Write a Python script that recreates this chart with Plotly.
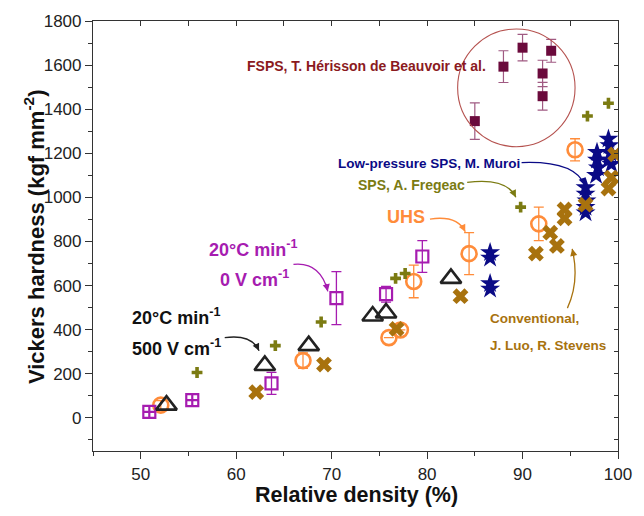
import plotly.graph_objects as go

# ---------------- data ----------------
fsps_x = [85.0, 88.0, 90.0, 92.1, 92.1, 93.0]
fsps_y = [1346, 1593, 1679, 1562, 1459, 1665]
fsps_err = [83, 72, 60, 60, 63, 52]

fregeac_x = [55.9, 64.1, 68.9, 76.7, 77.7, 89.8, 96.8, 99.0]
fregeac_y = [206, 328, 435, 633, 655, 956, 1369, 1427]

muroi_x = [86.6, 86.6, 86.6, 86.6,
           96.6, 96.6, 96.7, 96.6, 96.6,
           97.8, 97.8, 97.9, 97.7,
           99.0, 99.1, 99.2, 99.0, 99.3]
muroi_y = [750, 725, 610, 585,
           1045, 1015, 985, 955, 930,
           1205, 1170, 1135, 1100,
           1265, 1235, 1200, 1170, 1150]

conv_x = [62.1, 69.2, 76.8, 83.5, 91.4, 92.9, 93.6, 94.4, 94.4, 96.6, 99.0, 99.3, 99.7]
conv_y = [117, 242, 404, 552, 745, 840, 780, 905, 945, 967, 1040, 1090, 1195]

ff_x = [50.9, 55.4, 63.7, 70.5, 75.7, 79.5]          # 20°C/min, 0 V/cm
ff_y = [27, 81, 157, 543, 561, 732]
ff_err = [None, None, 50, 120, 36, 72]
ff_symbols = ["square-cross-open", "square-cross-open", "square-open",
              "square-open", "square-open", "square-open"]

uhs_x = [52.1, 67.0, 76.0, 77.2, 78.6, 84.4, 91.7, 95.5]
uhs_y = [58, 260, 364, 399, 619, 745, 880, 1216]
uhs_err = [20, 35, None, None, 74, 95, 76, 50]

fs_x = [52.7, 63.0, 67.6, 74.3, 75.7, 82.5]          # 20°C/min, 500 V/cm
fs_y = [58, 238, 328, 462, 476, 633]

# ---------------- colours ----------------
C_FSPS = "#6B0A3C"
C_FSPS_ERR = "#A05A82"
C_FSPS_TXT = "#8B1A1E"
C_CIRCLE = "#B5524F"
C_FREG = "#7B7B12"
C_MUROI = "#0A0A86"
C_CONV = "#A8720E"
C_PURP = "#A61CB0"
C_UHS = "#FF8C3A"
C_BLACK = "#222222"

FONT = "Arial, Liberation Sans, sans-serif"

fig = go.Figure()

fig.add_trace(go.Scatter(
    x=uhs_x, y=uhs_y, mode="markers",
    marker=dict(symbol="circle-open", size=15, color=C_UHS, line=dict(width=2.6, color=C_UHS)),
    error_y=dict(type="data", array=uhs_err, color=C_UHS, thickness=1.3, width=5),
    showlegend=False, hoverinfo="skip"))

fig.add_trace(go.Scatter(
    x=ff_x, y=ff_y, mode="markers",
    marker=dict(symbol=ff_symbols, size=12, color=C_PURP, line=dict(width=2.2, color=C_PURP)),
    error_y=dict(type="data", array=ff_err, color=C_PURP, thickness=1.3, width=5),
    showlegend=False, hoverinfo="skip"))

fig.add_trace(go.Scatter(
    x=fs_x, y=fs_y, mode="markers",
    marker=dict(symbol="triangle-up-open", size=18, color=C_BLACK, line=dict(width=2.6, color=C_BLACK)),
    showlegend=False, hoverinfo="skip"))

fig.add_trace(go.Scatter(
    x=muroi_x, y=muroi_y, mode="markers",
    marker=dict(symbol="star", size=15, color=C_MUROI, line=dict(width=0)),
    showlegend=False, hoverinfo="skip"))

fig.add_trace(go.Scatter(
    x=conv_x, y=conv_y, mode="markers",
    marker=dict(symbol="x", size=14, color=C_CONV, line=dict(width=0)),
    showlegend=False, hoverinfo="skip"))

fig.add_trace(go.Scatter(
    x=fregeac_x, y=fregeac_y, mode="markers",
    marker=dict(symbol="cross", size=9, color=C_FREG, line=dict(width=0)),
    showlegend=False, hoverinfo="skip"))

fig.add_trace(go.Scatter(
    x=fsps_x, y=fsps_y, mode="markers",
    marker=dict(symbol="square", size=10, color=C_FSPS, line=dict(width=0)),
    error_y=dict(type="data", array=fsps_err, color=C_FSPS_ERR, thickness=1.2, width=5),
    showlegend=False, hoverinfo="skip"))

# empty trace to activate mirror axes (top / right, inward ticks)
fig.add_trace(go.Scatter(x=[], y=[], xaxis="x2", yaxis="y2", showlegend=False, hoverinfo="skip"))

XR = [45, 100]
YR = [-150, 1800]

fig.update_layout(
    width=644, height=516,
    margin=dict(l=93, r=15, t=17, b=65),
    paper_bgcolor="white", plot_bgcolor="white",
    font=dict(family=FONT, color="#222"),
    showlegend=False,
    xaxis=dict(range=XR, tick0=50, dtick=10, ticks="outside", ticklen=7, tickwidth=1.2,
               tickcolor="#333", showline=True, linecolor="#333", linewidth=1.2,
               showgrid=False, zeroline=False, tickfont=dict(size=17, color="#222"),
               ticklabeloverflow="allow",
               minor=dict(dtick=5, tick0=0, ticks="outside", ticklen=4, tickwidth=1.2, tickcolor="#333")),
    yaxis=dict(range=YR, tick0=0, dtick=200, ticks="outside", ticklen=7, tickwidth=1.2,
               tickcolor="#333", showline=True, linecolor="#333", linewidth=1.2,
               showgrid=False, zeroline=False, tickfont=dict(size=17, color="#222"),
               ticklabeloverflow="allow",
               minor=dict(dtick=100, tick0=0, ticks="outside", ticklen=4, tickwidth=1.2, tickcolor="#333")),
    xaxis2=dict(range=XR, overlaying="x", side="top", anchor="y", tick0=0, dtick=5,
                ticks="inside", ticklen=5, tickwidth=1.2, tickcolor="#333",
                showticklabels=False, showline=True, linecolor="#333", linewidth=1.2,
                showgrid=False, zeroline=False),
    yaxis2=dict(range=YR, overlaying="y", side="right", anchor="x", tick0=0, dtick=100,
                ticks="inside", ticklen=4, tickwidth=1.2, tickcolor="#333",
                showticklabels=False, showline=True, linecolor="#333", linewidth=1.2,
                showgrid=False, zeroline=False),
)

# circle around FSPS data
fig.add_shape(type="circle", xref="x", yref="y", x0=83.2, x1=95.5, y0=1230, y1=1764,
              line=dict(color=C_CIRCLE, width=1.1))

# curved arrows (path + arrowhead annotation)
arrows = [
    # (start, ctrl, end, colour, ax, ay)
    ((84.2, 1068), (88.3, 1091), (89.3, 1001), C_FREG, -4, -8),
    ((89.9, 1158), (95.5, 1167), (96.5, 1055), C_MUROI, -3, -8),
    ((80.3, 902), (83.2, 920), (84.0, 844), C_UHS, -4, -8),
    ((66.0, 696), (68.8, 709), (69.6, 574), C_PURP, -2, -9),
    ((58.8, 364), (61.6, 381), (62.4, 305), C_BLACK, -4, -8),
    ((94.7, 498), (96.0, 619), (95.2, 767), C_CONV, 2, 9),
]
for (s, c, e, col, ax, ay) in arrows:
    fig.add_shape(type="path", xref="x", yref="y",
                  path=f"M {s[0]},{s[1]} Q {c[0]},{c[1]} {e[0]},{e[1]}",
                  line=dict(color=col, width=1.3))
    fig.add_annotation(x=e[0], y=e[1], xref="x", yref="y", text="", showarrow=True,
                       ax=ax, ay=ay, arrowhead=2, arrowsize=1.1, arrowwidth=1.3,
                       arrowcolor=col, standoff=0)

def label(text, x, y, color, size, xanchor="center"):
    fig.add_annotation(x=x, y=y, xref="x", yref="y", text=f"<b>{text}</b>", showarrow=False,
                       xanchor=xanchor, yanchor="middle", borderpad=0,
                       font=dict(family=FONT, size=size, color=color))

label("FSPS, T. Hérisson de Beauvoir et al.", 73.6, 1598, C_FSPS_TXT, 14)
label("Low-pressure SPS, M. Muroi", 89.8, 1153, C_MUROI, 13.5, "right")
label("SPS, A. Fregeac", 84.1, 1055, C_FREG, 14, "right")
label("UHS", 77.8, 911, C_UHS, 18)
label("20°C min<sup>-1</sup>", 61.8, 767, C_PURP, 18)
label("0 V cm<sup>-1</sup>", 61.9, 633, C_PURP, 18)
label("20°C min<sup>-1</sup>", 53.7, 462, "#111111", 18)
label("500 V cm<sup>-1</sup>", 53.7, 319, "#111111", 18)
label("Conventional,", 86.5, 453, C_CONV, 13.5, "left")
label("J. Luo, R. Stevens", 86.5, 328, C_CONV, 13.5, "left")

# axis titles
fig.add_annotation(x=0.502, y=-0.102, xref="paper", yref="paper", showarrow=False,
                   text="<b>Relative density (%)</b>", xanchor="center", yanchor="middle",
                   font=dict(family=FONT, size=21.5, color="#111"))
fig.add_annotation(x=-0.112, y=0.498, xref="paper", yref="paper", showarrow=False,
                   text="<b>Vickers hardness (kgf mm<sup>-2</sup>)</b>", textangle=-90,
                   xanchor="center", yanchor="middle",
                   font=dict(family=FONT, size=22, color="#111"))

# remove the default 8 px page margin so the figure fills the 644x516 window exactly
fig.write_html("out.html",
               config={"displayModeBar": False},
               post_script="document.body.style.margin='0px';document.body.style.overflow='hidden';")
